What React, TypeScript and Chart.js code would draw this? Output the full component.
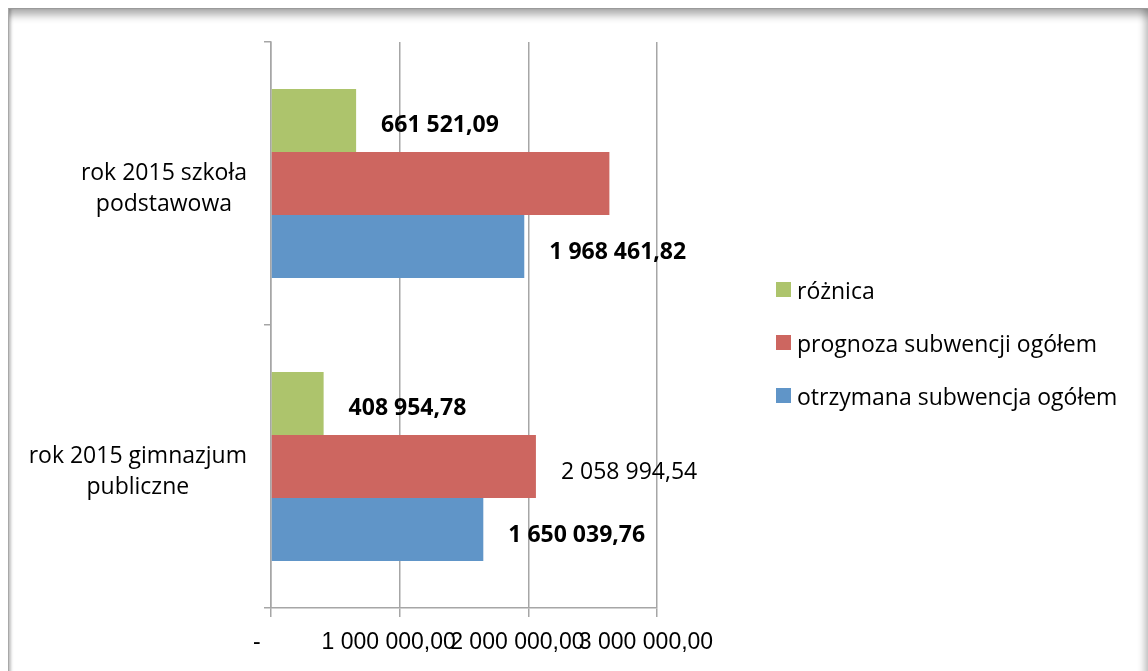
import React, { useEffect, useRef } from "react";
import { Chart, registerables } from "chart.js";

Chart.register(...registerables);

// ---- data ----
const categories: string[][] = [
  ["rok 2015 szkoła", "podstawowa"],
  ["rok 2015 gimnazjum", "publiczne"],
];
const seriesNames = ["różnica", "prognoza subwencji ogółem", "otrzymana subwencja ogółem"];
const roznica = [661521.09, 408954.78];
const prognoza = [2629982.91, 2058994.54];
const otrzymana = [1968461.82, 1650039.76];
const seriesColors = ["#ADC46C", "#CD6660", "#6095C8"];
const xTickValues = [0, 1000000, 2000000, 3000000];
// which bars carry a value label, and whether it is bold
const labelShown = [
  [true, true],
  [false, true],
  [true, true],
];
const labelBold = [
  [true, true],
  [false, false],
  [true, true],
];

const CAL = '"Open Sans", "Noto Sans", sans-serif';
const ARIAL = '"Liberation Sans", Arial, sans-serif';

function fmtPL(v: number): string {
  const [i, d] = v.toFixed(2).split(".");
  return i.replace(/\B(?=(\d{3})+(?!\d))/g, " ") + "," + d;
}

const yLabelsPlugin = {
  id: "yLabelsCentered",
  afterDraw(chart: any) {
    const { ctx } = chart;
    const y = chart.scales.y;
    ctx.save();
    ctx.font = `23px ${CAL}`;
    ctx.fillStyle = "#000";
    ctx.textAlign = "center";
    ctx.textBaseline = "alphabetic";
    const right = y.right - 24;
    (chart.data.labels as any[]).forEach((lab, i) => {
      const lines: string[] = Array.isArray(lab) ? lab : [String(lab)];
      const w = Math.max(...lines.map((l) => ctx.measureText(l).width));
      const cx = right - w / 2;
      const cy = y.getPixelForValue(i);
      lines.forEach((l, k) => ctx.fillText(l, cx, cy - 4 + k * 31.5));
    });
    ctx.restore();
  },
};

const valueLabelsPlugin = {
  id: "valueLabels",
  afterDatasetsDraw(chart: any) {
    const { ctx } = chart;
    ctx.save();
    ctx.fillStyle = "#000";
    ctx.textAlign = "left";
    ctx.textBaseline = "alphabetic";
    chart.data.datasets.forEach((ds: any, di: number) => {
      const meta = chart.getDatasetMeta(di);
      meta.data.forEach((bar: any, i: number) => {
        if (!labelShown[di][i]) return;
        ctx.font = `${labelBold[di][i] ? "bold " : ""}23px ${CAL}`;
        ctx.fillText(fmtPL(ds.data[i]), bar.x + 25, bar.y + 12);
      });
    });
    ctx.restore();
  },
};

const legendPlugin = {
  id: "sideLegend",
  afterDraw(chart: any) {
    const { ctx, chartArea } = chart;
    const ds = chart.data.datasets;
    const n = ds.length;
    const x0 = chartArea.right + 119;
    const midY = (chartArea.top + chartArea.bottom) / 2 + 17.5;
    ctx.save();
    ctx.textAlign = "left";
    ctx.textBaseline = "alphabetic";
    ctx.font = `23px ${CAL}`;
    ds.forEach((d: any, i: number) => {
      const cy = midY + (i - (n - 1) / 2) * 53;
      ctx.fillStyle = d.backgroundColor;
      ctx.fillRect(x0, cy - 7.5, 15, 15);
      ctx.fillStyle = "#000";
      ctx.fillText(d.label, x0 + 21, cy + 9);
    });
    ctx.restore();
  },
};

export default function App() {
  const ref = useRef<HTMLCanvasElement | null>(null);

  useEffect(() => {
    if (!ref.current) return;
    const series = [roznica, prognoza, otrzymana];
    const chart = new Chart(ref.current, {
      type: "bar",
      data: {
        labels: categories,
        datasets: series.map((data, i) => ({
          label: seriesNames[i],
          data,
          backgroundColor: seriesColors[i],
          borderWidth: 0,
          categoryPercentage: 0.668,
          barPercentage: 1,
        })),
      },
      options: {
        indexAxis: "y",
        responsive: false,
        animation: false,
        layout: { padding: { top: 34, right: 491, left: 0, bottom: 0 } },
        plugins: {
          legend: { display: false },
          tooltip: { enabled: false },
        },
        scales: {
          x: {
            type: "linear",
            position: "bottom",
            min: 0,
            max: 3000000,
            afterBuildTicks: (s: any) => {
              s.ticks = xTickValues.map((v) => ({ value: v }));
            },
            ticks: {
              autoSkip: false,
              maxRotation: 0,
              minRotation: 0,
              color: "#000",
              font: { family: ARIAL, size: 23 },
              labelOffset: -11,
              padding: 12,
              callback: (v: any) => (Number(v) === 0 ? "- " : fmtPL(Number(v))),
            },
            grid: { color: "#a6a6a6", lineWidth: 1.5, drawTicks: true, tickLength: 9 },
            border: { color: "#a6a6a6", width: 1.5 },
            afterFit: (s: any) => {
              s.height = 63;
            },
          },
          y: {
            type: "category",
            position: "left",
            offset: true,
            ticks: { display: false },
            grid: {
              offset: true,
              drawOnChartArea: false,
              drawTicks: true,
              tickLength: 7,
              color: "#a6a6a6",
              lineWidth: 1.5,
            },
            border: { color: "#a6a6a6", width: 1.5 },
            afterFit: (s: any) => {
              s.width = 263;
            },
          },
        },
      } as any,
      plugins: [valueLabelsPlugin, yLabelsPlugin, legendPlugin],
    });
    return () => chart.destroy();
  }, []);

  return (
    <div
      style={{
        position: "fixed",
        left: 0,
        top: 0,
        width: 1148,
        height: 671,
        overflow: "hidden",
        background: "#fff",
      }}
    >
      <div
        style={{
          position: "absolute",
          left: 8,
          top: 8,
          width: 1139,
          height: 700,
          borderTop: "1px solid #9a9a9a",
          borderLeft: "1px solid #a8a8a8",
          boxShadow:
            "inset 0 11px 8px -5px rgba(0,0,0,0.33), inset 3px 0 3px -1px rgba(0,0,0,0.22), inset -9px 0 7px -5px rgba(0,0,0,0.22)",
        }}
      />
      <canvas
        ref={ref}
        width={1140}
        height={663}
        style={{ position: "absolute", left: 8, top: 8, width: 1140, height: 663 }}
      />
    </div>
  );
}
